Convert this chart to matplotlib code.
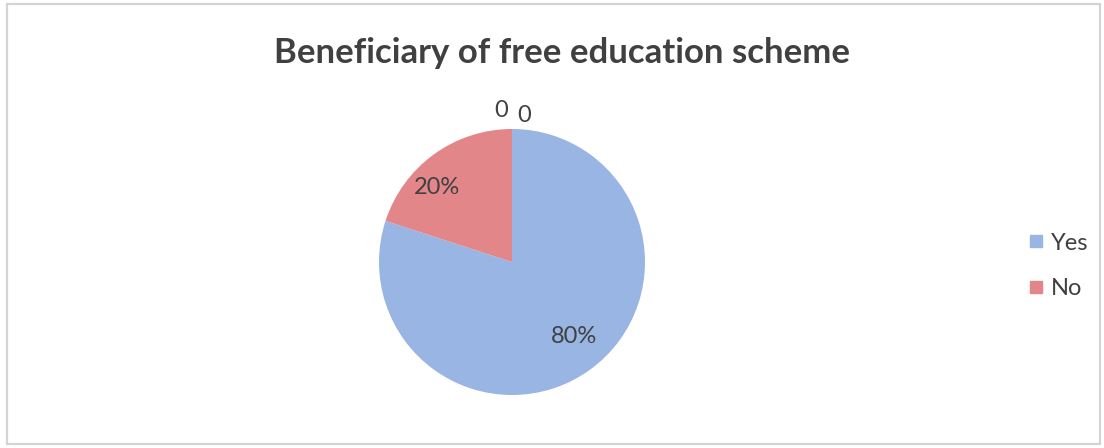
import matplotlib.pyplot as plt
from matplotlib.patches import Rectangle
from matplotlib.lines import Line2D
import numpy as np

plt.rcParams['font.family'] = ['Lato', 'DejaVu Sans']

# survey answers
labels = ['Yes', 'No']
shares = [80, 20]
colors = ['#98B5E3', '#E2868A']
text_color = '#404040'

W, H = 1104, 448
fig = plt.figure(figsize=(W / 100, H / 100), dpi=100)

# light frame around the chart area
fig.patches.append(Rectangle((7 / W, 4 / H), 1093 / W, 440 / H,
                             transform=fig.transFigure, fill=False,
                             edgecolor='#d4d4d4', linewidth=1.6))

fig.text(562 / W, 1 - 53 / H, 'Beneficiary of free education scheme',
         ha='center', va='center', fontsize=25, fontweight='bold',
         color=text_color)

# pie axes: centre at (512, 262) px, radius 133 px
r = 133
ax = fig.add_axes([(512 - r) / W, (H - 262 - r) / H, 2 * r / W, 2 * r / H])

wedges, texts = ax.pie(shares, colors=colors, startangle=90,
                       counterclock=False, radius=1,
                       wedgeprops=dict(linewidth=0))
ax.set_xlim(-1, 1)
ax.set_ylim(-1, 1)
ax.axis('off')

# percentage labels inside the slices
offsets = {'Yes': (0.04, 0.02), 'No': (-0.14, -0.02)}
for w, lab, val in zip(wedges, labels, shares):
    mid = np.deg2rad((w.theta1 + w.theta2) / 2)
    x, y = 0.72 * np.cos(mid), 0.72 * np.sin(mid)
    dx, dy = offsets[lab]
    ax.text(x + dx, y + dy, f'{val}%', ha='center', va='center',
            fontsize=17, color=text_color)

# the two empty categories get their value labels at the top
zero_values = [0, 0]
for (zx, zy), v in zip([(-0.08, 1.14), (0.09, 1.10)], zero_values):
    ax.text(zx, zy, str(v), ha='center', va='center', fontsize=17,
            color=text_color, clip_on=False)

handles = [Line2D([], [], marker='s', linestyle='', markersize=9,
                  markerfacecolor=c, markeredgecolor=c) for c in colors]
fig.legend(handles, labels, loc='center left',
           bbox_to_anchor=(1006 / W, 1 - 266 / H), frameon=False,
           handlelength=0.7, handletextpad=0.3, labelspacing=1.05,
           prop={'size': 17}, labelcolor=text_color)

fig.savefig('out.png', dpi=100)
